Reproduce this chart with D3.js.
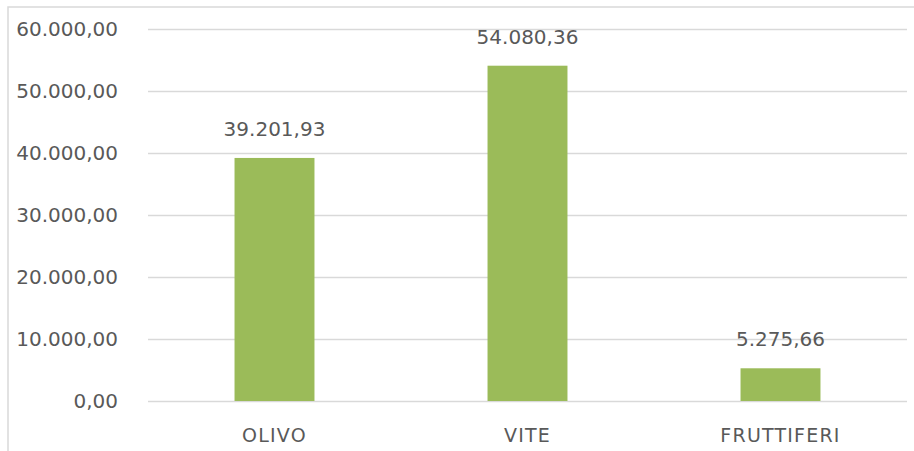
<!DOCTYPE html>
<html>
<head>
<meta charset="utf-8">
<script src="https://cdn.jsdelivr.net/npm/d3@7"></script>
<style>
  body { margin: 0; background: #fff; }
  svg text { font-family: "DejaVu Sans", Verdana, sans-serif; fill: #595959; }
  .y.axis .domain { display: none; }
  .y.axis line { stroke: #d9d9d9; stroke-width: 1.5; }
  .y.axis text { font-size: 20px; }
  .x-label { font-size: 19px; letter-spacing: 1.2px; }
  .value { font-size: 20px; }
</style>
</head>
<body>
<svg id="chart"></svg>
<script>
const categories = ['OLIVO', 'VITE', 'FRUTTIFERI'];
const values = [39201.93, 54080.36, 5275.66];
const yTicks = [0, 10000, 20000, 30000, 40000, 50000, 60000];

const W = 914;
const H = 451;

const margin = {top: 29, right: 7, bottom: 50, left: 148};
const width = W - margin.left - margin.right;
const height = H - margin.top - margin.bottom;

const it = d3.formatLocale({decimal: ',', thousands: '.', grouping: [3], currency: ['€', '']});
const fmt = it.format(',.2f');

const svg = d3.select('#chart')
  .attr('width', W)
  .attr('height', H);

// frame of the embedded chart (top and left edges visible)
svg.append('path')
  .attr('d', `M8,${H} L8,7 L${W},7`)
  .attr('fill', 'none')
  .attr('stroke', '#d9d9d9')
  .attr('stroke-width', 1.5);

const chart = svg.append('g')
  .attr('transform', `translate(${margin.left}, ${margin.top})`);

const x = d3.scaleBand()
  .domain(categories)
  .range([0, width])
  .paddingInner(0.684)
  .paddingOuter(0.342);

const y = d3.scaleLinear()
  .domain([0, 60000])
  .range([height, 0]);

const yAxis = d3.axisLeft(y)
  .tickValues(yTicks)
  .tickSize(-width)
  .tickPadding(30)
  .tickFormat(fmt);

chart.append('g')
  .attr('class', 'y axis')
  .call(yAxis);

chart.selectAll('.bar')
  .data(values)
  .enter().append('rect')
  .attr('class', 'bar')
  .attr('x', (d, i) => x(categories[i]))
  .attr('y', d => y(d))
  .attr('width', x.bandwidth())
  .attr('height', d => height - y(d))
  .attr('fill', '#9bbb59');

chart.selectAll('.value')
  .data(values)
  .enter().append('text')
  .attr('class', 'value')
  .attr('x', (d, i) => x(categories[i]) + x.bandwidth() / 2)
  .attr('y', d => y(d) - 22)
  .attr('text-anchor', 'middle')
  .text(d => fmt(d));

chart.selectAll('.x-label')
  .data(categories)
  .enter().append('text')
  .attr('class', 'x-label')
  .attr('x', d => x(d) + x.bandwidth() / 2)
  .attr('y', height + 41)
  .attr('text-anchor', 'middle')
  .text(d => d);
</script>
</body>
</html>
